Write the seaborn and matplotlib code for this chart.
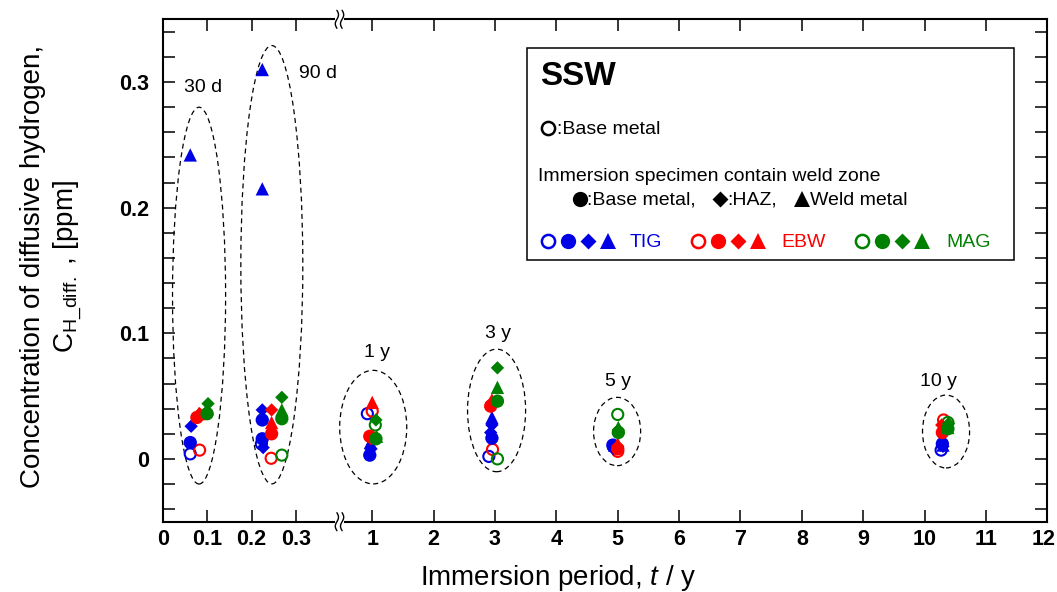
import numpy as np
import pandas as pd
import matplotlib
matplotlib.use("Agg")
import matplotlib.pyplot as plt
import seaborn as sns
from matplotlib.patches import Ellipse, Rectangle
from matplotlib.path import Path
from matplotlib.ticker import MultipleLocator, NullLocator
from matplotlib.transforms import ScaledTranslation

# ---------------- data (immersion period t [y], concentration [ppm]) ----------------
methods = ["TIG", "EBW", "MAG"]
parts = ["Base metal (open)", "Base metal", "HAZ", "Weld metal"]

tig_open_t = [0.062, 0.222, 0.92, 2.90, 4.92, 10.27]
tig_open_c = [0.004, 0.012, 0.036, 0.002, 0.011, 0.007]
tig_base_t = [0.062, 0.224, 0.224, 0.96, 2.95, 4.93, 10.29]
tig_base_c = [0.013, 0.031, 0.016, 0.003, 0.0165, 0.010, 0.012]
tig_haz_t = [0.064, 0.224, 0.226, 0.98, 2.95, 2.93, 4.93, 10.30]
tig_haz_c = [0.026, 0.039, 0.009, 0.008, 0.027, 0.021, 0.008, 0.010]
tig_weld_t = [0.062, 0.224, 0.224, 0.97, 2.95, 4.95, 10.30]
tig_weld_c = [0.242, 0.310, 0.215, 0.013, 0.033, 0.011, 0.011]

ebw_open_t = [0.083, 0.244, 1.00, 2.96, 5.00, 10.31]
ebw_open_c = [0.007, 0.0005, 0.038, 0.0075, 0.006, 0.031]
ebw_base_t = [0.077, 0.245, 0.96, 2.93, 5.00, 10.29]
ebw_base_c = [0.033, 0.020, 0.018, 0.042, 0.008, 0.021]
ebw_haz_t = [0.083, 0.245, 0.98, 2.95, 5.00, 10.28]
ebw_haz_c = [0.036, 0.039, 0.016, 0.045, 0.010, 0.027]
ebw_weld_t = [0.081, 0.245, 1.00, 2.95, 5.00, 10.30]
ebw_weld_c = [0.036, 0.029, 0.045, 0.047, 0.012, 0.025]

mag_open_t = [0.268, 1.05, 3.04, 5.00, 10.38]
mag_open_c = [0.003, 0.027, 0.000, 0.0354, 0.029]
mag_base_t = [0.100, 0.268, 1.06, 3.04, 5.01, 10.38]
mag_base_c = [0.036, 0.032, 0.016, 0.046, 0.021, 0.024]
mag_haz_t = [0.102, 0.268, 1.06, 3.04, 5.01, 10.39]
mag_haz_c = [0.044, 0.049, 0.031, 0.0725, 0.023, 0.028]
mag_weld_t = [0.100, 0.268, 1.07, 3.04, 5.01, 10.38]
mag_weld_c = [0.040, 0.039, 0.018, 0.057, 0.025, 0.025]

x_ticks = [0, 0.1, 0.2, 0.3, 1, 2, 3, 4, 5, 6, 7, 8, 9, 10, 11, 12]
x_ticklabels = ["0", "0.1", "0.2", "0.3", "1", "2", "3", "4", "5", "6", "7", "8", "9", "10", "11", "12"]
y_ticks = [0, 0.1, 0.2, 0.3]
y_ticklabels = ["0", "0.1", "0.2", "0.3"]

period_labels = ["30 d", "90 d", "1 y", "3 y", "5 y", "10 y"]
period_label_t = [0.091, 0.350, 1.07, 3.05, 5.00, 10.23]
period_label_c = [0.296, 0.307, 0.085, 0.100, 0.062, 0.062]

# group ellipses: centre (t, c), width in scale units, height in ppm
ell_t = [0.0818, 0.2455, 1.016, 3.026, 4.99, 10.35]
ell_c = [0.130, 0.1546, 0.0253, 0.0386, 0.0218, 0.0218]
ell_w = [0.865, 1.01, 1.093, 0.946, 0.767, 0.767]
ell_h = [0.300, 0.349, 0.0904, 0.0976, 0.0544, 0.058]

colors = {"TIG": "#0000E6", "EBW": "#FF0000", "MAG": "#008000"}

series = {
    ("TIG", "Base metal (open)"): (tig_open_t, tig_open_c),
    ("TIG", "Base metal"): (tig_base_t, tig_base_c),
    ("TIG", "HAZ"): (tig_haz_t, tig_haz_c),
    ("TIG", "Weld metal"): (tig_weld_t, tig_weld_c),
    ("EBW", "Base metal (open)"): (ebw_open_t, ebw_open_c),
    ("EBW", "Base metal"): (ebw_base_t, ebw_base_c),
    ("EBW", "HAZ"): (ebw_haz_t, ebw_haz_c),
    ("EBW", "Weld metal"): (ebw_weld_t, ebw_weld_c),
    ("MAG", "Base metal (open)"): (mag_open_t, mag_open_c),
    ("MAG", "Base metal"): (mag_base_t, mag_base_c),
    ("MAG", "HAZ"): (mag_haz_t, mag_haz_c),
    ("MAG", "Weld metal"): (mag_weld_t, mag_weld_c),
}
rows = []
for (m, p), (ts, cs) in series.items():
    for t, c in zip(ts, cs):
        rows.append({"method": m, "part": p, "t": t, "c": c})
df = pd.DataFrame(rows)

# ---------------- style ----------------
sns.set_theme(style="ticks")
plt.rcParams["font.family"] = ["Liberation Sans", "DejaVu Sans"]
plt.rcParams["mathtext.fontset"] = "custom"
plt.rcParams["mathtext.rm"] = "Liberation Sans"
plt.rcParams["mathtext.it"] = "Liberation Sans:italic"
plt.rcParams["mathtext.bf"] = "Liberation Sans:bold"
for key in ("text.color", "axes.labelcolor", "xtick.color", "ytick.color", "axes.edgecolor"):
    plt.rcParams[key] = "black"

# broken x axis as a piecewise-linear scale
XB = np.array([-1.0, 0.0, 0.39, 0.46, 13.0])
K = 444.0 / 61.3
UB = np.array([-K, 0.0, 0.39 * K, 0.46 + 2.4144, 13.0 + 2.4144])


def fwd(x):
    return np.interp(x, XB, UB)


def inv(u):
    return np.interp(u, UB, XB)


W, H = 1057, 592
AX_L, AX_R, AX_T, AX_B = 162.7, 1047.3, 19.3, 521.7
fig = plt.figure(figsize=(W / 100, H / 100), dpi=100)
ax = fig.add_axes([AX_L / W, 1 - AX_B / H, (AX_R - AX_L) / W, (AX_B - AX_T) / H])


def fx(px):
    return (px - AX_L) / (AX_R - AX_L)


def fy(py):
    return (AX_B - py) / (AX_B - AX_T)


ax.set_xscale("function", functions=(fwd, inv))

diamond = Path([(0, 1), (1, 0), (0, -1), (-1, 0), (0, 1)],
               [Path.MOVETO, Path.LINETO, Path.LINETO, Path.LINETO, Path.CLOSEPOLY])

# open circles
df_open = df[df["part"] == "Base metal (open)"]
sns.scatterplot(data=df_open, x="t", y="c", hue="method", palette=colors,
                hue_order=methods, marker="o", s=64, linewidth=1.5,
                legend=False, ax=ax, zorder=3)
coll = ax.collections[-1]
coll.set_edgecolors(coll.get_facecolors())
coll.set_facecolors("none")

# filled symbols
df_fill = df[df["part"] != "Base metal (open)"]
sns.scatterplot(data=df_fill, x="t", y="c", hue="method", palette=colors,
                hue_order=methods, style="part",
                markers={"Base metal": "o", "HAZ": diamond, "Weld metal": "^"},
                s=92, linewidth=0, legend=False, ax=ax, zorder=4)

ax.set_xlim(0, 12)
ax.set_ylim(-0.05, 0.35)

# ellipses (drawn in scale space)
aff = ax.transLimits + ax.transAxes
for t, c, w, h in zip(ell_t, ell_c, ell_w, ell_h):
    e = Ellipse((float(fwd(t)), c), width=w, height=h, transform=aff,
                fill=False, ec="black", lw=0.9, ls=(0, (4, 3)), zorder=2)
    ax.add_patch(e)

for lab, t, c in zip(period_labels, period_label_t, period_label_c):
    ax.text(t, c, lab, ha="center", va="center", fontsize=14, color="black")

# ticks
ax.set_xticks(x_ticks, labels=x_ticklabels, fontsize=15.5, fontweight="bold")
ax.xaxis.set_minor_locator(NullLocator())
ax.set_yticks(y_ticks, labels=y_ticklabels, fontsize=15.5, fontweight="bold")
ax.yaxis.set_minor_locator(MultipleLocator(0.02))
ax.tick_params(which="both", direction="in", top=True, right=True,
               length=8.5, width=1.1, color="black")
ax.tick_params(axis="x", pad=5)
ax.tick_params(axis="y", pad=10)
for sp in ax.spines.values():
    sp.set_linewidth(1.5)
    sp.set_color("black")

# axis labels
ax.set_xlabel("Immersion period, $\\mathit{t}$ / y", fontsize=20)
ax.xaxis.set_label_coords(fx(558), fy(563))
ax.set_ylabel("Concentration of diffusive hydrogen,\nC$_{\\mathregular{H\\_diff.}}$ , [ppm]",
              fontsize=20, linespacing=1.25)
ax.yaxis.set_label_coords(fx(84), fy(266))

# axis break marks
for ypix in (AX_T, AX_B):
    ax.add_patch(Rectangle((fx(335), fy(ypix + 2)), fx(344) - fx(335), fy(ypix - 2) - fy(ypix + 2),
                           transform=ax.transAxes, fc="white", ec="none",
                           clip_on=False, zorder=10))
    yy = np.linspace(-9, 9, 40)
    for dx in (-2.6, 2.6):
        xx = 339.5 + dx - 1.6 * np.sin(np.pi * yy / 9.0)
        ax.plot([fx(v) for v in xx], [fy(ypix + v) for v in yy], color="black",
                lw=1.0, transform=ax.transAxes, clip_on=False, zorder=11)

# legend box
ax.add_patch(Rectangle((fx(526.7), fy(260)), fx(1014) - fx(526.7), fy(48.3) - fy(260),
                       transform=ax.transAxes, fc="white", ec="black", lw=1.1, zorder=5))
ax.text(fx(540), fy(85), "SSW", transform=ax.transAxes, fontsize=24,
        fontweight="bold", ha="left", va="baseline", zorder=6)


def lmark(px, py, marker, color, filled=True, ms=11):
    if filled:
        ax.plot([fx(px)], [fy(py)], marker=marker, ms=ms, color=color, mec=color,
                mew=0, transform=ax.transAxes, zorder=6, clip_on=False, ls="none")
    else:
        ax.plot([fx(px)], [fy(py)], marker=marker, ms=ms - 1.5, mfc="none", mec=color,
                mew=1.8, transform=ax.transAxes, zorder=6, clip_on=False, ls="none")


lmark(548.3, 128.5, "o", "black", filled=False)
ax.text(fx(557), fy(134), ":Base metal", transform=ax.transAxes, fontsize=14,
        ha="left", va="baseline", zorder=6)
ax.text(fx(538), fy(180.7), "Immersion specimen contain weld zone", transform=ax.transAxes,
        fontsize=14, ha="left", va="baseline", zorder=6)
lmark(580, 199.5, "o", "black")
ax.text(fx(587), fy(205), ":Base metal,", transform=ax.transAxes, fontsize=14,
        ha="left", va="baseline", zorder=6)
lmark(720, 199.5, diamond, "black", ms=11.5)
ax.text(fx(727), fy(205), ":HAZ,", transform=ax.transAxes, fontsize=14,
        ha="left", va="baseline", zorder=6)
lmark(801.7, 199.5, "^", "black")
ax.text(fx(810), fy(205), "Weld metal", transform=ax.transAxes, fontsize=14,
        ha="left", va="baseline", zorder=6)

legend_x0 = {"TIG": 548.3, "EBW": 697.7, "MAG": 861.7}
legend_tx = {"TIG": 630, "EBW": 781.7, "MAG": 946}
for m in methods:
    x0 = legend_x0[m]
    lmark(x0, 241.5, "o", colors[m], filled=False)
    lmark(x0 + 20, 241.5, "o", colors[m])
    lmark(x0 + 40, 241.5, diamond, colors[m], ms=11.5)
    lmark(x0 + 60, 241.5, "^", colors[m])
    ax.text(fx(legend_tx[m]), fy(247.3), m, transform=ax.transAxes, fontsize=14,
            color=colors[m], ha="left", va="baseline", zorder=6)

# keep the last x tick label inside the canvas
fig.canvas.draw()
last = ax.xaxis.get_major_ticks()[-1].label1
last.set_transform(last.get_transform() + ScaledTranslation(-4 / 100, 0, fig.dpi_scale_trans))

fig.savefig("out.png", dpi=100)
